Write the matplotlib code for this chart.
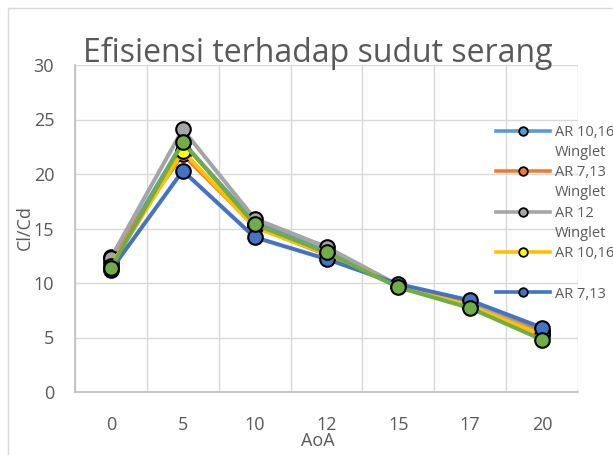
import matplotlib
matplotlib.use("Agg")
import matplotlib.pyplot as plt
from matplotlib.lines import Line2D
import numpy as np

plt.rcParams['font.family'] = ['Open Sans', 'DejaVu Sans']

categories = ["0", "5", "10", "12", "15", "17", "20"]
ar1016_winglet = [11.9, 22.9, 15.6, 12.9, 9.8, 8.0, 5.4]
ar713_winglet = [12.4, 21.8, 15.2, 12.6, 9.7, 8.0, 5.6]
ar12_winglet = [12.3, 24.1, 15.9, 13.3, 9.8, 8.1, 5.3]
ar1016 = [11.6, 22.1, 15.1, 12.7, 9.7, 7.9, 5.2]
ar713 = [11.2, 20.3, 14.2, 12.2, 9.9, 8.4, 5.9]
ar12 = [11.4, 22.9, 15.4, 12.8, 9.6, 7.7, 4.8]

series = [
    ("AR 10,16", "Winglet", ar1016_winglet, "#5B9BD5", "#5B9BD5"),
    ("AR 7,13", "Winglet", ar713_winglet, "#ED7D31", "#ED7D31"),
    ("AR 12", "Winglet", ar12_winglet, "#A5A5A5", "#A5A5A5"),
    ("AR 10,16", "", ar1016, "#FFC000", "#FFFF00"),
    ("AR 7,13", "", ar713, "#4472C4", "#4472C4"),
    ("AR 12", "", ar12, "#70AD47", "#70AD47"),
]

fig = plt.figure(figsize=(6.13, 4.55), dpi=100)
ax = fig.add_axes([75/613, 1-392/455, (578-75)/613, (392-65)/455])

x = np.arange(len(categories))
handles = []
labels = []
for lab, lab2, vals, col, face in series:
    ax.plot(x, vals, color=col, lw=2.9, marker='o', markersize=10.5,
            markerfacecolor=face, markeredgecolor='black', markeredgewidth=1.5,
            solid_joinstyle='round')
    handles.append(Line2D([], [], color=col, lw=2.6, marker='o', markersize=6.2,
                          markerfacecolor=face, markeredgecolor='black', markeredgewidth=1.3))
    labels.append(lab)

ax.set_xlim(-0.5, len(categories) - 0.5)
ax.set_ylim(0, 30)
ax.set_yticks(np.arange(0, 31, 5))
ax.set_xticks(x)
ax.set_xticklabels(categories)
ax.set_xticks(np.arange(-0.5, len(categories), 1), minor=True)
ax.grid(True, which='minor', axis='x', color='#D9D9D9', lw=1.0)
ax.grid(True, which='major', axis='y', color='#D9D9D9', lw=1.0)
ax.grid(False, which='major', axis='x')
ax.set_axisbelow(True)
ax.tick_params(which='both', length=0)
ax.tick_params(axis='x', pad=17, labelsize=13, labelcolor='#595959')
ax.tick_params(axis='y', pad=15, labelsize=13, labelcolor='#595959')
for s in ['top', 'right']:
    ax.spines[s].set_visible(False)
for s in ['left', 'bottom']:
    ax.spines[s].set_color('#BFBFBF')
    ax.spines[s].set_linewidth(1.2)

fig.text(318/613, 1-53/455, "Efisiensi terhadap sudut serang", ha='center', va='center',
         fontsize=23, color='#595959')
fig.text(25/613, 1-228/455, "Cl/Cd", rotation=90, ha='center', va='center',
         fontsize=13, color='#595959')
fig.text(318/613, 1-441/455, "AoA", ha='center', va='center', fontsize=13, color='#595959')

# figure frame
fig.add_artist(Line2D([8/613, 8/613], [0, 1-8/455], transform=fig.transFigure, color='#D9D9D9', lw=1))
fig.add_artist(Line2D([8/613, 1], [1-8/455, 1-8/455], transform=fig.transFigure, color='#D9D9D9', lw=1))

leg = fig.legend(handles[:5], labels[:5], loc='upper left',
                 bbox_to_anchor=(496/613, 1-125/455), frameon=False,
                 fontsize=10.5, handlelength=3.7, handletextpad=0.35,
                 labelspacing=1.74, borderaxespad=0, borderpad=0)
for t in leg.get_texts():
    t.set_color('#595959')

fig.canvas.draw()
r = fig.canvas.get_renderer()
for (lab, lab2, *_), t in zip(series[:5], leg.get_texts()):
    if lab2:
        bb = t.get_window_extent(r)
        fig.text(bb.x0/fig.bbox.width, (bb.y0 - 5)/fig.bbox.height, lab2,
                 ha='left', va='top', fontsize=10.5, color='#595959')

fig.savefig("out.png", dpi=100)
